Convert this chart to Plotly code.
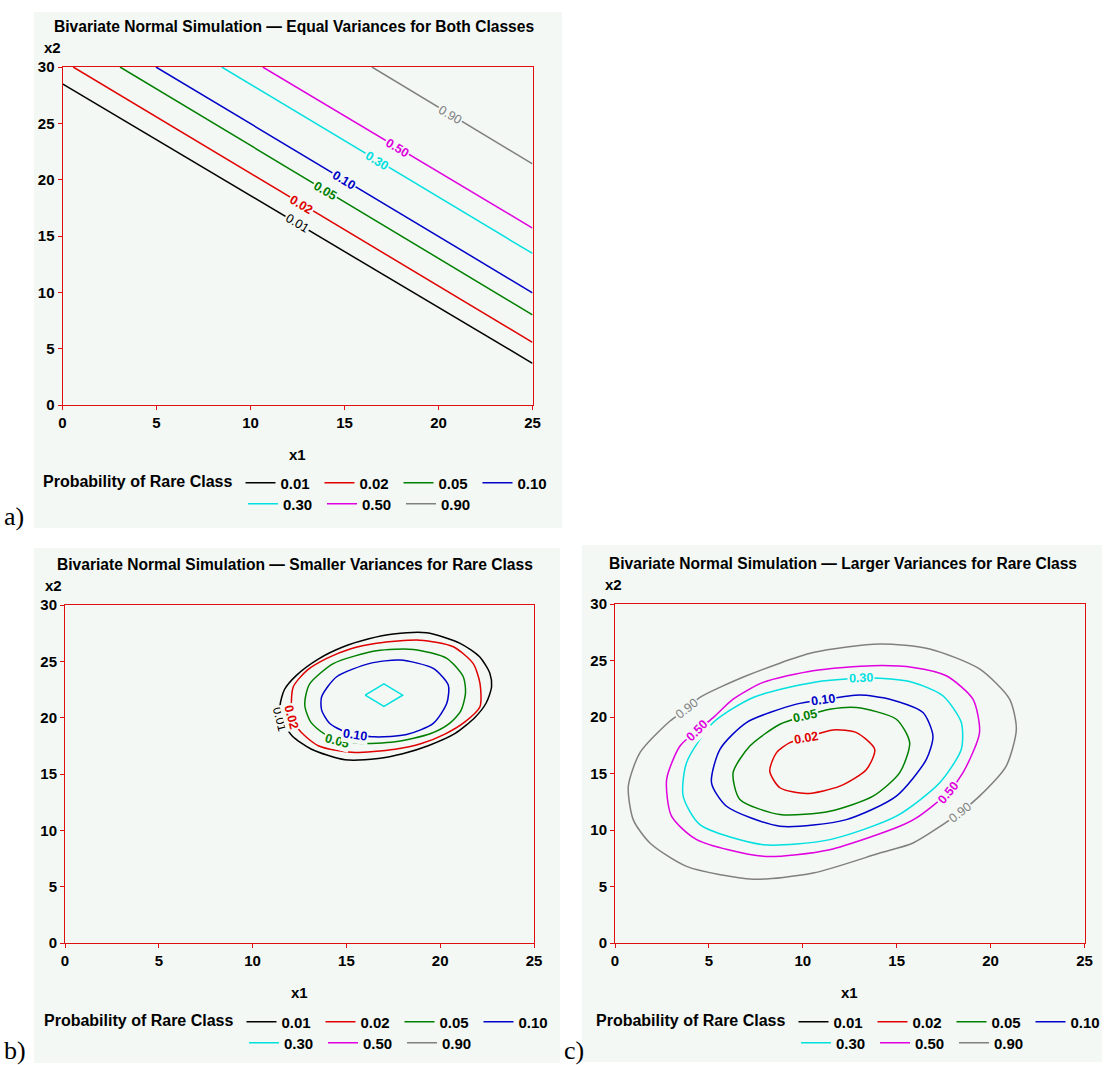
import plotly.graph_objects as go

W, H = 1104, 1065
BG = "#f3f8f4"
FRAME = "#e01010"
FONT = "Liberation Sans"

LEVELS = ["0.01", "0.02", "0.05", "0.10", "0.30", "0.50", "0.90"]
COLORS = ["#000000", "#e00000", "#008000", "#0000c8", "#00e0e0", "#e000e0", "#808080"]

X_TICKS = [0, 5, 10, 15, 20, 25]
Y_TICKS = [0, 5, 10, 15, 20, 25, 30]

TITLES = [
    "Bivariate Normal Simulation \u2014 Equal Variances for Both Classes",
    "Bivariate Normal Simulation \u2014 Smaller Variances for Rare Class",
    "Bivariate Normal Simulation \u2014 Larger Variances for Rare Class",
]
PANEL_TAGS = ["a)", "b)", "c)"]

# ---------------- Panel a: straight contour lines (start / end points) -------------
A_X_START = [0.0, 0.57, 3.06, 4.97, 8.47, 10.65, 16.46]
A_Y_START = [28.5, 30.0, 30.0, 30.0, 30.0, 30.0, 30.0]
A_X_END = [25.0, 25.0, 25.0, 25.0, 25.0, 25.0, 25.0]
A_Y_END = [3.7, 5.56, 8.0, 9.96, 13.45, 15.7, 21.4]
A_LABEL_X = [12.46, 12.7, 13.97, 14.95, 16.74, 17.8, 20.62]
A_LABEL_Y = [16.12, 17.75, 19.0, 20.0, 21.7, 22.8, 25.75]

# ---------------- Panel b: smaller variances for rare class ------------------------
B_001_X = [11.46, 11.7, 12.35, 13.5, 14.84, 16.2, 17.5, 19.28, 21.06, 22.1, 22.65, 22.74, 22.45, 21.85, 20.8, 19.36, 18.0, 16.7, 14.92, 13.14, 12.1, 11.55, 11.46]
B_001_Y = [21.06, 22.5, 23.78, 25.2, 26.29, 27.0, 27.42, 27.53, 26.6, 25.4, 23.93, 22.74, 21.3, 20.02, 18.6, 17.51, 16.8, 16.38, 16.27, 17.2, 18.4, 19.87, 21.06]
B_002_X = [12.08, 12.17, 12.9, 13.95, 15.2, 16.6, 18.92, 20.7, 21.76, 22.12, 22.12, 21.3, 20.25, 19.0, 17.6, 15.28, 13.5, 12.44, 12.08]
B_002_Y = [20.76, 22.74, 24.2, 25.26, 26.1, 26.6, 26.88, 26.29, 24.8, 23.04, 20.97, 19.6, 18.54, 17.7, 17.2, 16.92, 17.51, 19.0, 20.76]
B_005_X = [12.79, 12.85, 13.06, 14.3, 16.6, 18.57, 20.35, 21.23, 21.35, 21.1, 20.5, 19.5, 17.6, 15.63, 13.85, 13.1, 12.79]
B_005_Y = [20.97, 22.1, 23.04, 24.8, 25.94, 26.06, 25.26, 23.63, 22.2, 20.6, 19.5, 18.6, 17.86, 17.74, 18.54, 19.6, 20.97]
B_010_X = [13.68, 13.68, 14.48, 16.26, 17.86, 19.63, 20.43, 20.35, 19.63, 18.21, 16.5, 15.0, 14.1, 13.68]
B_010_Y = [20.67, 21.86, 23.63, 24.82, 25.11, 24.37, 22.89, 21.27, 19.49, 18.5, 18.3, 18.7, 19.5, 20.67]
B_030_X = [16, 17, 18, 17, 16]
B_030_Y = [22, 23, 22, 21, 22]
B_LABEL_TEXT = ["0.01", "0.02", "0.05", "0.10"]
B_LABEL_X = [11.45, 12.08, 14.5, 15.46]
B_LABEL_Y = [19.9, 20.1, 17.95, 18.5]
B_LABEL_ANGLE = [76, 75, 15, 8]

# ---------------- Panel c: larger variances for rare class -------------------------
C_002_X = [10.16, 11.61, 12.86, 13.83, 13.39, 11.97, 10.2, 8.78, 8.24, 8.6, 9.31, 10.16]
C_002_Y = [18.18, 18.86, 18.62, 17.14, 15.36, 13.88, 13.23, 13.74, 15.21, 16.85, 17.73, 18.18]
C_005_X = [11.44, 12.86, 14.98, 15.69, 15.16, 13.74, 11.44, 8.78, 6.65, 6.29, 7.18, 8.78, 10.11, 11.44]
C_005_Y = [20.69, 20.84, 19.8, 17.73, 15.07, 12.99, 11.66, 11.37, 12.7, 15.07, 17.43, 19.36, 20.1, 20.69]
C_010_X = [13.03, 14.63, 16.4, 16.93, 16.58, 14.98, 12.32, 8.78, 5.94, 5.14, 5.59, 7.0, 9.66, 11.05, 13.03]
C_010_Y = [21.94, 21.58, 20.4, 18.32, 16.25, 13.0, 10.92, 10.33, 12.1, 14.18, 17.14, 19.51, 21.14, 21.52, 21.94]
C_030_X = [13.12, 14.1, 15.87, 17.46, 18.44, 18.44, 17.29, 14.98, 11.44, 7.89, 4.52, 3.63, 3.81, 5.23, 7.36, 10.55, 13.12]
C_030_Y = [23.42, 23.42, 23.06, 21.88, 19.51, 17.14, 14.18, 11.22, 9.15, 8.7, 10.48, 12.99, 15.96, 19.51, 21.73, 23.06, 23.42]
C_050_X = [4.35, 5.23, 6.29, 7.89, 10.55, 13.74, 15.87, 17.64, 19.06, 19.41, 18.53, 17.73, 16.05, 15.16, 11.44, 7.89, 4.35, 3.01, 2.75, 3.46, 4.35]
C_050_Y = [18.77, 19.95, 21.58, 23.06, 24.1, 24.54, 24.39, 23.65, 21.58, 18.62, 15.07, 13.29, 11.07, 10.33, 8.26, 7.67, 9.15, 11.22, 14.48, 17.43, 18.77]
C_090_X = [3.81, 4.52, 7.0, 10.55, 14.1, 16.76, 19.41, 21.01, 21.37, 20.83, 19.41, 18.35, 15.87, 14.1, 10.55, 7.36, 3.81, 1.86, 0.97, 0.71, 1.33, 2.93, 3.81]
C_090_Y = [20.69, 21.73, 23.65, 25.7, 26.47, 26.02, 24.25, 21.58, 18.92, 15.66, 13.0, 11.52, 8.85, 7.96, 6.19, 5.65, 6.78, 8.85, 10.92, 13.88, 16.85, 19.65, 20.69]
C_LABEL_TEXT = ["0.90", "0.50", "0.30", "0.10", "0.05", "0.02", "0.50", "0.90"]
C_LABEL_X = [3.81, 4.35, 13.12, 11.05, 10.11, 10.16, 17.73, 18.35]
C_LABEL_Y = [20.69, 18.77, 23.42, 21.52, 20.1, 18.18, 13.29, 11.52]
C_LABEL_ANGLE = [-38, -45, -2, -8, -12, -10, -50, -38]

# ---------------- layout geometry (pixels in the 1104 x 1065 page) -----------------
PANEL_BOX = [(34, 12, 562, 528), (34, 548, 560, 1063), (582, 545, 1102, 1062)]
PLOT_BOX = [(62.5, 67, 532.5, 405), (65, 605, 534, 943), (615, 604, 1084.5, 943)]
TITLE_DX = [-3.5, -5, -7]
X2_DX = [-21, -22, -12]


def px(x):
    return x / W


def py(y):
    return 1 - y / H


fig = go.Figure()

axis_names = [("x", "y"), ("x2", "y2"), ("x3", "y3")]
legend_rows = [("legend", "legend2"), ("legend3", "legend4"), ("legend5", "legend6")]


def add_line(panel, i, xs, ys, smooth=False):
    xa, ya = axis_names[panel]
    leg = legend_rows[panel][0] if i < 4 else legend_rows[panel][1]
    line = dict(color=COLORS[i], width=1.5)
    if smooth:
        line.update(shape="spline", smoothing=0.7)
    fig.add_trace(go.Scatter(
        x=xs, y=ys, mode="lines", name=LEVELS[i], line=line,
        xaxis=xa, yaxis=ya, legend=leg, hoverinfo="skip",
    ))


# panel a
for i in range(7):
    add_line(0, i, [A_X_START[i], A_X_END[i]], [A_Y_START[i], A_Y_END[i]])

# panel b
b_data = [(B_001_X, B_001_Y), (B_002_X, B_002_Y), (B_005_X, B_005_Y), (B_010_X, B_010_Y),
          (B_030_X, B_030_Y), ([None], [None]), ([None], [None])]
for i, (xs, ys) in enumerate(b_data):
    add_line(1, i, xs, ys, smooth=(i < 4))

# panel c
c_data = [([None], [None]), (C_002_X, C_002_Y), (C_005_X, C_005_Y), (C_010_X, C_010_Y),
          (C_030_X, C_030_Y), (C_050_X, C_050_Y), (C_090_X, C_090_Y)]
for i, (xs, ys) in enumerate(c_data):
    add_line(2, i, xs, ys, smooth=True)

# axes
layout_axes = {}
for p, (x0, y0, x1, y1) in enumerate(PLOT_BOX):
    sx = "" if p == 0 else str(p + 1)
    common = dict(
        showline=True, mirror=True, linecolor=FRAME, linewidth=1,
        ticks="outside", ticklen=4, tickcolor=FRAME, tickwidth=1,
        showgrid=False, zeroline=False, fixedrange=True, automargin=False,
        tickfont=dict(family=FONT, size=15, color="black", weight="bold"),
    )
    layout_axes["xaxis" + sx] = dict(
        domain=[px(x0), px(x1)], range=[0, 25], tickvals=X_TICKS,
        anchor="y" + sx, **common)
    layout_axes["yaxis" + sx] = dict(
        domain=[py(y1), py(y0)], range=[0, 30], tickvals=Y_TICKS,
        anchor="x" + sx, **common)

fig.update_layout(**layout_axes)

# panel backgrounds
shapes = []
for (x0, y0, x1, y1) in PANEL_BOX:
    shapes.append(dict(type="rect", xref="paper", yref="paper", layer="below",
                       x0=px(x0), x1=px(x1), y0=py(y1), y1=py(y0),
                       fillcolor=BG, line=dict(width=0)))

annotations = []
TXT = dict(family=FONT, size=15, color="black", weight="bold")
TITLE_TXT = dict(family=FONT, size=15.6, color="black", weight="bold")
for p, (x0, y0, x1, y1) in enumerate(PLOT_BOX):
    cx = (x0 + x1) / 2
    annotations.append(dict(xref="paper", yref="paper", x=px(cx + TITLE_DX[p]), y=py(y0 - 41),
                            text=TITLES[p], showarrow=False, font=TITLE_TXT,
                            xanchor="center", yanchor="middle"))
    annotations.append(dict(xref="paper", yref="paper", x=px(x0 + X2_DX[p]), y=py(y0 - 20),
                            text="x2", showarrow=False, font=TXT,
                            xanchor="left", yanchor="middle"))
    annotations.append(dict(xref="paper", yref="paper", x=px(cx), y=py(y1 + 49),
                            text="x1", showarrow=False, font=TXT,
                            xanchor="center", yanchor="middle"))

tag_pos = [(2, 517), (2, 1050), (562, 1050)]
for t, (tx, ty) in zip(PANEL_TAGS, tag_pos):
    annotations.append(dict(xref="paper", yref="paper", x=px(tx), y=py(ty), text=t,
                            showarrow=False, xanchor="left", yanchor="middle",
                            font=dict(family="Liberation Serif", size=26, color="black")))


def contour_label(xa, ya, x, y, text, color, angle):
    annotations.append(dict(xref=xa, yref=ya, x=x, y=y, text=text, showarrow=False,
                            textangle=angle, bgcolor=BG, borderpad=1,
                            font=dict(family=FONT, size=12.5, color=color,
                                      weight="normal" if text in ("0.90", "0.01") else "bold")))


for i in range(7):
    contour_label("x", "y", A_LABEL_X[i], A_LABEL_Y[i], LEVELS[i], COLORS[i], 31)
for t, x, y, a in zip(B_LABEL_TEXT, B_LABEL_X, B_LABEL_Y, B_LABEL_ANGLE):
    contour_label("x2", "y2", x, y, t, COLORS[LEVELS.index(t)], a)
for t, x, y, a in zip(C_LABEL_TEXT, C_LABEL_X, C_LABEL_Y, C_LABEL_ANGLE):
    contour_label("x3", "y3", x, y, t, COLORS[LEVELS.index(t)], a)

# legends: two rows per panel
LEG_FONT = dict(family=FONT, size=15, color="black", weight="bold")
LEG_TITLE_FONT = dict(family=FONT, size=16, color="black", weight="bold")
legend_pos = [(41, 483, 243, 504), (42, 1022, 244, 1043), (594, 1022, 796, 1043)]
legends = {}
for p, (lx1, ly1, lx2, ly2) in enumerate(legend_pos):
    r1, r2 = legend_rows[p]
    base = dict(orientation="h", xanchor="left", yanchor="middle",
                bgcolor="rgba(0,0,0,0)", font=LEG_FONT, entrywidth=34,
                entrywidthmode="pixels", itemwidth=30, traceorder="normal",
                tracegroupgap=0, itemclick=False, itemdoubleclick=False)
    legends[r1] = dict(base, x=px(lx1), y=py(ly1),
                       title=dict(text="Probability of Rare Class", side="left",
                                  font=LEG_TITLE_FONT))
    legends[r2] = dict(base, x=px(lx2), y=py(ly2))

fig.update_layout(
    width=W, height=H,
    margin=dict(l=0, r=0, t=0, b=0, autoexpand=False),
    paper_bgcolor="white", plot_bgcolor=BG,
    shapes=shapes, annotations=annotations,
    showlegend=True,
    **legends,
)

fig.write_html("out.html")
